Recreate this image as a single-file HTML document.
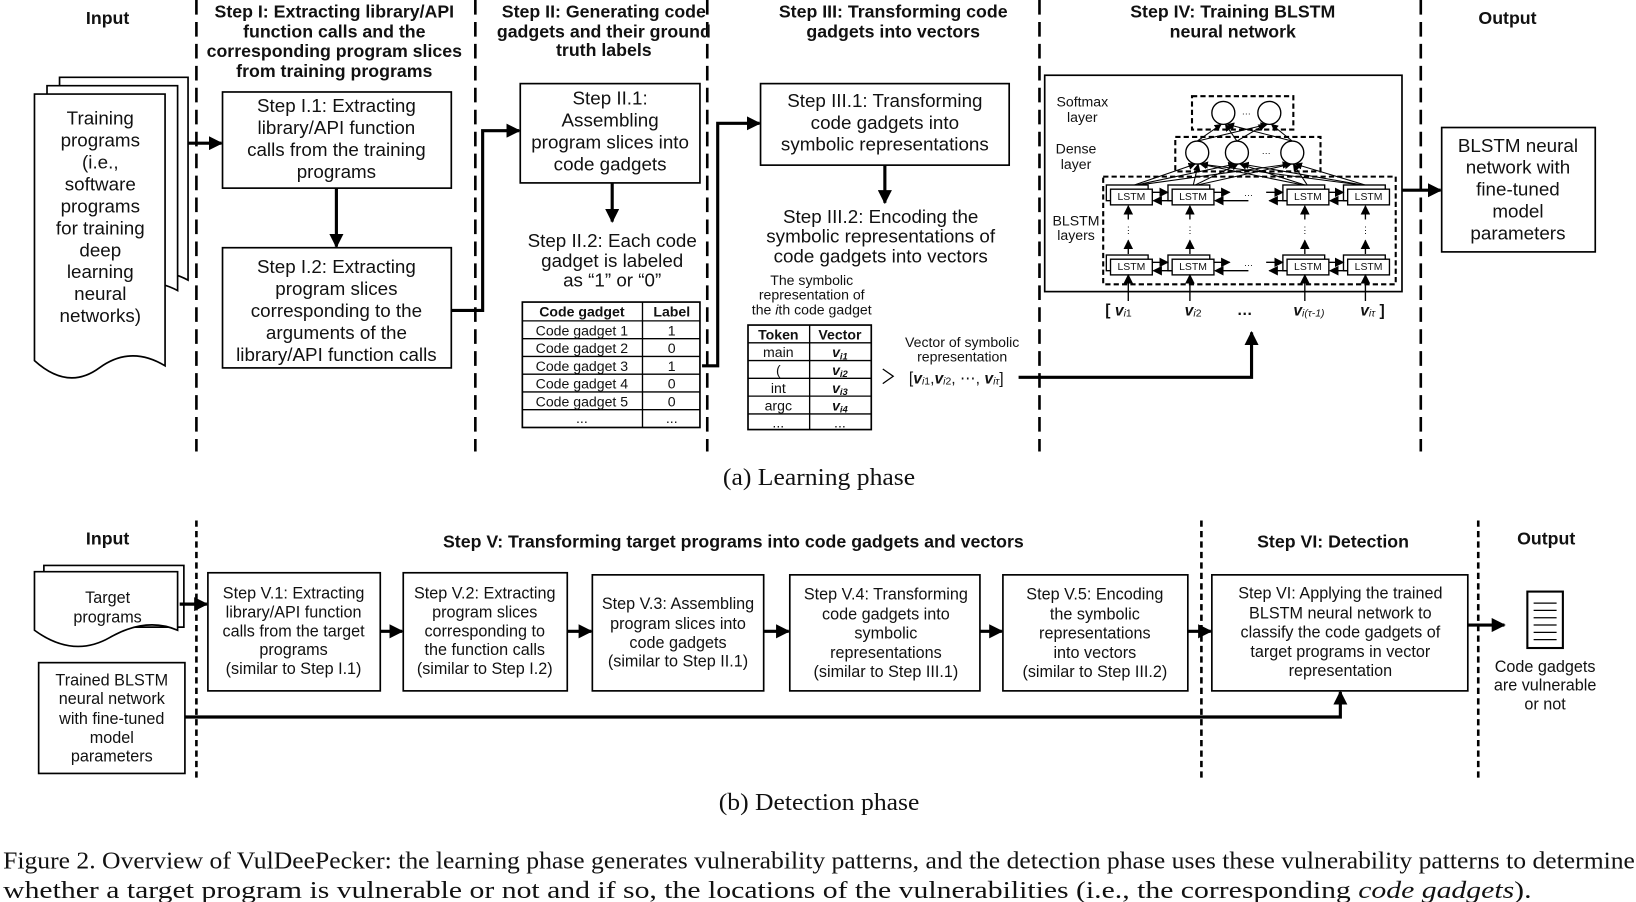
<!DOCTYPE html>
<html><head><meta charset="utf-8"><style>
html,body{margin:0;padding:0;background:#fff;}
svg{display:block;}
text{font-family:"Liberation Sans",sans-serif;fill:#111;}
.s{font-size:18px;text-anchor:middle;dominant-baseline:central;}
.h{font-size:17px;font-weight:bold;text-anchor:middle;dominant-baseline:central;}
.t{font-size:13.5px;text-anchor:middle;dominant-baseline:central;}
.b{font-size:15.5px;text-anchor:middle;dominant-baseline:central;}
.sm{font-size:12px;text-anchor:middle;dominant-baseline:central;}
.serif{font-family:"Liberation Serif",serif;font-size:23px;}
</style></head><body>
<svg width="1636" height="902" viewBox="0 0 1566 863" preserveAspectRatio="none" xmlns="http://www.w3.org/2000/svg">
<defs>
<marker id="a" viewBox="0 0 10 10" refX="9" refY="5" markerWidth="4.5" markerHeight="4.5" orient="auto" markerUnits="strokeWidth"><path d="M0,0L10,5L0,10z" fill="#000"/></marker>
<marker id="s" viewBox="0 0 10 10" refX="9" refY="5" markerWidth="7" markerHeight="7" orient="auto" markerUnits="strokeWidth"><path d="M0,0L10,5L0,10z" fill="#000"/></marker>
</defs>
<g fill="none" stroke="#000">
<g stroke-width="2.5" stroke-dasharray="14,7">
<line x1="188" y1="0" x2="188" y2="432"/><line x1="455" y1="0" x2="455" y2="432"/><line x1="677" y1="0" x2="677" y2="432"/><line x1="995" y1="0" x2="995" y2="432"/><line x1="1360" y1="0" x2="1360" y2="432"/>
</g>
<g stroke-width="2.5" stroke-dasharray="6,4">
<line x1="188" y1="498" x2="188" y2="745"/><line x1="1150" y1="498" x2="1150" y2="745"/><line x1="1415" y1="498" x2="1415" y2="745"/>
</g>
<g stroke-width="1.6" fill="#fff">
<path d="M57,74H180V268Q150,252 118,268T57,262Z"/>
<path d="M45,82H170V278Q140,262 108,278T45,272Z"/>
<path d="M33,90H158V350Q125,330 95,352T33,345Z"/>
<rect x="213" y="88" width="219" height="92"/>
<rect x="213" y="237" width="219" height="115"/>
<rect x="498" y="80" width="172" height="95"/>
<rect x="728" y="80" width="238" height="78"/>
<rect x="1000" y="72" width="342" height="207"/>
<rect x="1380" y="122" width="147" height="119"/>
<rect x="500" y="289" width="170" height="120"/>
<rect x="716" y="311" width="118" height="100"/>
<path d="M42,541H176V600H42Z"/>
<path d="M33,547H170V603Q140,590 105,610T33,603Z"/>
<rect x="37" y="634" width="140" height="106"/>
<rect x="199" y="548" width="165" height="113"/>
<rect x="386" y="548" width="157" height="113"/>
<rect x="567" y="550" width="164" height="111"/>
<rect x="756" y="550" width="182" height="111"/>
<rect x="960" y="550" width="177" height="111"/>
<rect x="1160" y="550" width="245" height="111"/>
<rect x="1462" y="566" width="34" height="54" stroke-width="2"/>
</g>
<g stroke-width="1.2"><line x1="1468" y1="577" x2="1490" y2="577"/><line x1="1468" y1="584" x2="1490" y2="584"/><line x1="1468" y1="591" x2="1490" y2="591"/><line x1="1468" y1="598" x2="1490" y2="598"/><line x1="1468" y1="605" x2="1490" y2="605"/><line x1="1468" y1="612" x2="1490" y2="612"/></g>
<g stroke-width="1.3">
<line x1="615" y1="289" x2="615" y2="409"/>
<line x1="500" y1="307" x2="670" y2="307"/><line x1="500" y1="324" x2="670" y2="324"/><line x1="500" y1="341" x2="670" y2="341"/><line x1="500" y1="358" x2="670" y2="358"/><line x1="500" y1="375" x2="670" y2="375"/><line x1="500" y1="392" x2="670" y2="392"/>
<line x1="775" y1="311" x2="775" y2="411"/>
<line x1="716" y1="328" x2="834" y2="328"/><line x1="716" y1="345" x2="834" y2="345"/><line x1="716" y1="362" x2="834" y2="362"/><line x1="716" y1="379" x2="834" y2="379"/><line x1="716" y1="396" x2="834" y2="396"/>
</g>
<g stroke-width="3" marker-end="url(#a)">
<line x1="180" y1="137" x2="212" y2="137"/>
<line x1="322" y1="180" x2="322" y2="236"/>
<polyline points="432,297 462,297 462,125 497,125"/>
<line x1="586" y1="175" x2="586" y2="212"/>
<polyline points="672,350 687,350 687,118 727,118"/>
<line x1="847" y1="158" x2="847" y2="194"/>
<polyline points="975,361 1198,361 1198,318"/>
<line x1="1342" y1="182" x2="1379" y2="182"/>
<line x1="172" y1="578" x2="198" y2="578"/>
<line x1="364" y1="604" x2="385" y2="604"/>
<line x1="543" y1="604" x2="566" y2="604"/>
<line x1="731" y1="604" x2="755" y2="604"/>
<line x1="938" y1="604" x2="959" y2="604"/>
<line x1="1137" y1="604" x2="1159" y2="604"/>
<line x1="1405" y1="598" x2="1440" y2="598"/>
<polyline points="177,686 1283,686 1283,662"/>
</g>
<g stroke-width="2" stroke-dasharray="5,3">
<rect x="1141" y="92" width="97" height="32"/>
<rect x="1125" y="131" width="139" height="33"/>
<rect x="1056" y="169" width="280" height="103"/>
</g>
<g stroke-width="1.3" fill="#fff">
<circle cx="1171" cy="108" r="11"/><circle cx="1215" cy="108" r="11"/>
<circle cx="1146" cy="146" r="11"/><circle cx="1184" cy="146" r="11"/><circle cx="1237" cy="146" r="11"/>
</g>
<g stroke-width="1" marker-end="url(#s)">
<line x1="1146" y1="135" x2="1169" y2="119"/><line x1="1146" y1="135" x2="1213" y2="119"/>
<line x1="1184" y1="135" x2="1173" y2="119"/><line x1="1184" y1="135" x2="1211" y2="119"/>
<line x1="1237" y1="135" x2="1175" y2="119"/><line x1="1237" y1="135" x2="1217" y2="119"/>
<line x1="1083" y1="178" x2="1144" y2="157"/><line x1="1083" y1="178" x2="1182" y2="157"/><line x1="1083" y1="178" x2="1234" y2="157"/>
<line x1="1142" y1="178" x2="1147" y2="157"/><line x1="1142" y1="178" x2="1185" y2="157"/><line x1="1142" y1="178" x2="1236" y2="157"/>
<line x1="1252" y1="178" x2="1149" y2="157"/><line x1="1252" y1="178" x2="1187" y2="157"/><line x1="1252" y1="178" x2="1238" y2="157"/>
<line x1="1310" y1="178" x2="1150" y2="157"/><line x1="1310" y1="178" x2="1189" y2="157"/><line x1="1310" y1="178" x2="1240" y2="157"/>
</g>
<g stroke-width="1.3" fill="#fff">
<rect x="1059" y="177" width="40" height="15"/><rect x="1063" y="181" width="40" height="15"/>
<rect x="1118" y="177" width="40" height="15"/><rect x="1122" y="181" width="40" height="15"/>
<rect x="1228" y="177" width="40" height="15"/><rect x="1232" y="181" width="40" height="15"/>
<rect x="1286" y="177" width="40" height="15"/><rect x="1290" y="181" width="40" height="15"/>
<rect x="1059" y="244" width="40" height="15"/><rect x="1063" y="248" width="40" height="15"/>
<rect x="1118" y="244" width="40" height="15"/><rect x="1122" y="248" width="40" height="15"/>
<rect x="1228" y="244" width="40" height="15"/><rect x="1232" y="248" width="40" height="15"/>
<rect x="1286" y="244" width="40" height="15"/><rect x="1290" y="248" width="40" height="15"/>
</g>
<g stroke-width="1.3" marker-end="url(#s)">
<line x1="1103" y1="184" x2="1118" y2="184"/><line x1="1122" y1="192" x2="1104" y2="192"/>
<line x1="1162" y1="184" x2="1177" y2="184"/><line x1="1195" y1="192" x2="1163" y2="192"/>
<line x1="1212" y1="184" x2="1228" y2="184"/><line x1="1232" y1="192" x2="1215" y2="192"/>
<line x1="1272" y1="184" x2="1286" y2="184"/><line x1="1290" y1="192" x2="1273" y2="192"/>
<line x1="1103" y1="251" x2="1118" y2="251"/><line x1="1122" y1="259" x2="1104" y2="259"/>
<line x1="1162" y1="251" x2="1177" y2="251"/><line x1="1195" y1="259" x2="1163" y2="259"/>
<line x1="1212" y1="251" x2="1228" y2="251"/><line x1="1232" y1="259" x2="1215" y2="259"/>
<line x1="1272" y1="251" x2="1286" y2="251"/><line x1="1290" y1="259" x2="1273" y2="259"/>
<line x1="1080" y1="210" x2="1080" y2="197"/><line x1="1080" y1="243" x2="1080" y2="230"/><line x1="1080" y1="288" x2="1080" y2="263"/>
<line x1="1139" y1="210" x2="1139" y2="197"/><line x1="1139" y1="243" x2="1139" y2="230"/><line x1="1139" y1="288" x2="1139" y2="263"/>
<line x1="1249" y1="210" x2="1249" y2="197"/><line x1="1249" y1="243" x2="1249" y2="230"/><line x1="1249" y1="288" x2="1249" y2="263"/>
<line x1="1307" y1="210" x2="1307" y2="197"/><line x1="1307" y1="243" x2="1307" y2="230"/><line x1="1307" y1="288" x2="1307" y2="263"/>
</g>
<path d="M845,353L855,360L845,367" stroke-width="1.2"/>
</g>

<text class="h" x="103" y="17">Input</text>
<text class="h" x="320" y="11">Step I: Extracting library/API</text>
<text class="h" x="320" y="30">function calls and the</text>
<text class="h" x="320" y="49">corresponding program slices</text>
<text class="h" x="320" y="68">from training programs</text>
<text class="h" x="578" y="11">Step II: Generating code</text>
<text class="h" x="578" y="30">gadgets and their ground</text>
<text class="h" x="578" y="48">truth labels</text>
<text class="h" x="855" y="11">Step III: Transforming code</text>
<text class="h" x="855" y="30">gadgets into vectors</text>
<text class="h" x="1180" y="11">Step IV: Training BLSTM</text>
<text class="h" x="1180" y="30">neural network</text>
<text class="h" x="1443" y="17">Output</text>

<g class="s">
<text x="96" y="113">Training</text><text x="96" y="134">programs</text><text x="96" y="155">(i.e.,</text><text x="96" y="176">software</text><text x="96" y="197">programs</text><text x="96" y="218">for training</text><text x="96" y="239">deep</text><text x="96" y="260">learning</text><text x="96" y="281">neural</text><text x="96" y="302">networks)</text>
<text x="322" y="101">Step I.1: Extracting</text><text x="322" y="122">library/API function</text><text x="322" y="143">calls from the training</text><text x="322" y="164">programs</text>
<text x="322" y="255">Step I.2: Extracting</text><text x="322" y="276">program slices</text><text x="322" y="297">corresponding to the</text><text x="322" y="318">arguments of the</text><text x="322" y="339">library/API function calls</text>
<text x="584" y="94">Step II.1:</text><text x="584" y="115">Assembling</text><text x="584" y="136">program slices into</text><text x="584" y="157">code gadgets</text>
<text x="586" y="230">Step II.2: Each code</text><text x="586" y="249">gadget   is labeled</text><text x="586" y="268">as “1” or “0”</text>
<text x="847" y="96">Step III.1: Transforming</text><text x="847" y="117">code gadgets into</text><text x="847" y="138">symbolic representations</text>
<text x="843" y="207">Step III.2: Encoding the</text><text x="843" y="226">symbolic representations of</text><text x="843" y="245">code gadgets into vectors</text>
<text x="1453" y="139">BLSTM neural</text><text x="1453" y="160">network with</text><text x="1453" y="181">fine-tuned</text><text x="1453" y="202">model</text><text x="1453" y="223">parameters</text>
</g>
<g class="t">
<text x="557" y="298" font-weight="bold">Code gadget</text><text x="643" y="298" font-weight="bold">Label</text>
<text x="557" y="316">Code gadget 1</text><text x="643" y="316">1</text>
<text x="557" y="333">Code gadget 2</text><text x="643" y="333">0</text>
<text x="557" y="350">Code gadget 3</text><text x="643" y="350">1</text>
<text x="557" y="367">Code gadget 4</text><text x="643" y="367">0</text>
<text x="557" y="384">Code gadget 5</text><text x="643" y="384">0</text>
<text x="557" y="400">...</text><text x="643" y="400">...</text>
<text x="745" y="320" font-weight="bold">Token</text><text x="804" y="320" font-weight="bold">Vector</text>
<text x="745" y="337">main</text><text x="745" y="354">(</text><text x="745" y="371">int</text><text x="745" y="388">argc</text><text x="745" y="404">...</text><text x="804" y="404">...</text>
<text x="804" y="337" font-weight="bold" font-style="italic">v<tspan font-size="9" dy="3">i1</tspan></text>
<text x="804" y="354" font-weight="bold" font-style="italic">v<tspan font-size="9" dy="3">i2</tspan></text>
<text x="804" y="371" font-weight="bold" font-style="italic">v<tspan font-size="9" dy="3">i3</tspan></text>
<text x="804" y="388" font-weight="bold" font-style="italic">v<tspan font-size="9" dy="3">i4</tspan></text>
<text x="777" y="268">The symbolic</text><text x="777" y="282">representation of</text><text x="777" y="296">the <tspan font-style="italic">i</tspan>th code gadget</text>
<text x="921" y="327">Vector of symbolic</text><text x="921" y="341">representation</text>
<text x="1036" y="97">Softmax</text><text x="1036" y="112">layer</text>
<text x="1030" y="142">Dense</text><text x="1030" y="157">layer</text>
<text x="1030" y="211">BLSTM</text><text x="1030" y="225">layers</text>
</g>
<text x="870" y="362" style="font-size:15px;dominant-baseline:central">[<tspan font-weight="bold" font-style="italic">v</tspan><tspan font-size="10" dy="3" font-style="italic">i</tspan><tspan font-size="10">1</tspan><tspan dy="-3">,</tspan><tspan font-weight="bold" font-style="italic">v</tspan><tspan font-size="10" dy="3" font-style="italic">i</tspan><tspan font-size="10">2</tspan><tspan dy="-3">, ⋯, </tspan><tspan font-weight="bold" font-style="italic">v</tspan><tspan font-size="10" dy="3" font-style="italic">iτ</tspan><tspan dy="-3">]</tspan></text>
<g class="sm">
<text x="1083" y="189" style="font-size:10px">LSTM</text><text x="1142" y="189" style="font-size:10px">LSTM</text><text x="1252" y="189" style="font-size:10px">LSTM</text><text x="1310" y="189" style="font-size:10px">LSTM</text>
<text x="1083" y="256" style="font-size:10px">LSTM</text><text x="1142" y="256" style="font-size:10px">LSTM</text><text x="1252" y="256" style="font-size:10px">LSTM</text><text x="1310" y="256" style="font-size:10px">LSTM</text>
<text x="1193" y="106" style="font-size:9px">…</text><text x="1212" y="144" style="font-size:9px">…</text><text x="1195" y="184" style="font-size:9px">…</text><text x="1195" y="251" style="font-size:9px">…</text>
<text x="1080" y="220" style="font-size:9px">⋮</text><text x="1139" y="220" style="font-size:9px">⋮</text><text x="1249" y="220" style="font-size:9px">⋮</text><text x="1307" y="220" style="font-size:9px">⋮</text>
</g>
<g style="font-size:15px;dominant-baseline:central" font-weight="bold">
<text x="1058" y="297">[  <tspan font-style="italic">v</tspan><tspan font-size="10" dy="3" font-style="italic" font-weight="normal">i</tspan><tspan font-size="10" font-weight="normal">1</tspan></text>
<text x="1134" y="297"><tspan font-style="italic">v</tspan><tspan font-size="10" dy="3" font-style="italic" font-weight="normal">i</tspan><tspan font-size="10" font-weight="normal">2</tspan></text>
<text x="1184" y="297">…</text>
<text x="1238" y="297"><tspan font-style="italic">v</tspan><tspan font-size="10" dy="3" font-style="italic" font-weight="normal">i(τ-1)</tspan></text>
<text x="1302" y="297"><tspan font-style="italic">v</tspan><tspan font-size="10" dy="3" font-style="italic" font-weight="normal">iτ</tspan><tspan dy="-3">  ]</tspan></text>
</g>

<text class="serif" x="692" y="464" textLength="184" lengthAdjust="spacingAndGlyphs">(a)  Learning phase</text>

<text class="h" x="103" y="515">Input</text>
<text class="h" x="702" y="518">Step V: Transforming target programs into code gadgets and vectors</text>
<text class="h" x="1276" y="518">Step VI: Detection</text>
<text class="h" x="1480" y="515">Output</text>
<g class="b">
<text x="103" y="572">Target</text><text x="103" y="591">programs</text>
<text x="107" y="651">Trained BLSTM</text><text x="107" y="669">neural network</text><text x="107" y="688">with fine-tuned</text><text x="107" y="706">model</text><text x="107" y="724">parameters</text>
<text x="281" y="568">Step V.1: Extracting</text><text x="281" y="586">library/API function</text><text x="281" y="604">calls from the target</text><text x="281" y="622">programs</text><text x="281" y="640">(similar to Step I.1)</text>
<text x="464" y="568">Step V.2: Extracting</text><text x="464" y="586">program slices</text><text x="464" y="604">corresponding to</text><text x="464" y="622">the function calls</text><text x="464" y="640">(similar to Step I.2)</text>
<text x="649" y="578">Step V.3: Assembling</text><text x="649" y="597">program slices into</text><text x="649" y="615">code gadgets</text><text x="649" y="633">(similar to Step II.1)</text>
<text x="848" y="569">Step V.4: Transforming</text><text x="848" y="588">code gadgets into</text><text x="848" y="606">symbolic</text><text x="848" y="625">representations</text><text x="848" y="643">(similar to Step III.1)</text>
<text x="1048" y="569">Step V.5: Encoding</text><text x="1048" y="588">the symbolic</text><text x="1048" y="606">representations</text><text x="1048" y="625">into vectors</text><text x="1048" y="643">(similar to Step III.2)</text>
<text x="1283" y="568">Step VI: Applying the trained</text><text x="1283" y="587">BLSTM neural network to</text><text x="1283" y="605">classify the code gadgets of</text><text x="1283" y="624">target programs in vector</text><text x="1283" y="642">representation</text>
<text x="1479" y="638">Code gadgets</text><text x="1479" y="656">are vulnerable</text><text x="1479" y="674">or not</text>
</g>
<text class="serif" x="688" y="775" textLength="192" lengthAdjust="spacingAndGlyphs">(b)  Detection phase</text>
<text class="serif" x="3" y="831" textLength="1562" lengthAdjust="spacingAndGlyphs">Figure 2.   Overview of VulDeePecker: the learning phase generates vulnerability patterns, and the detection phase uses these vulnerability patterns to determine</text>
<text class="serif" x="3" y="859" textLength="1463" lengthAdjust="spacingAndGlyphs">whether a target program is vulnerable or not and if so, the locations of the vulnerabilities (i.e., the corresponding <tspan font-style="italic">code gadgets</tspan>).</text>
</svg>
</body></html>
